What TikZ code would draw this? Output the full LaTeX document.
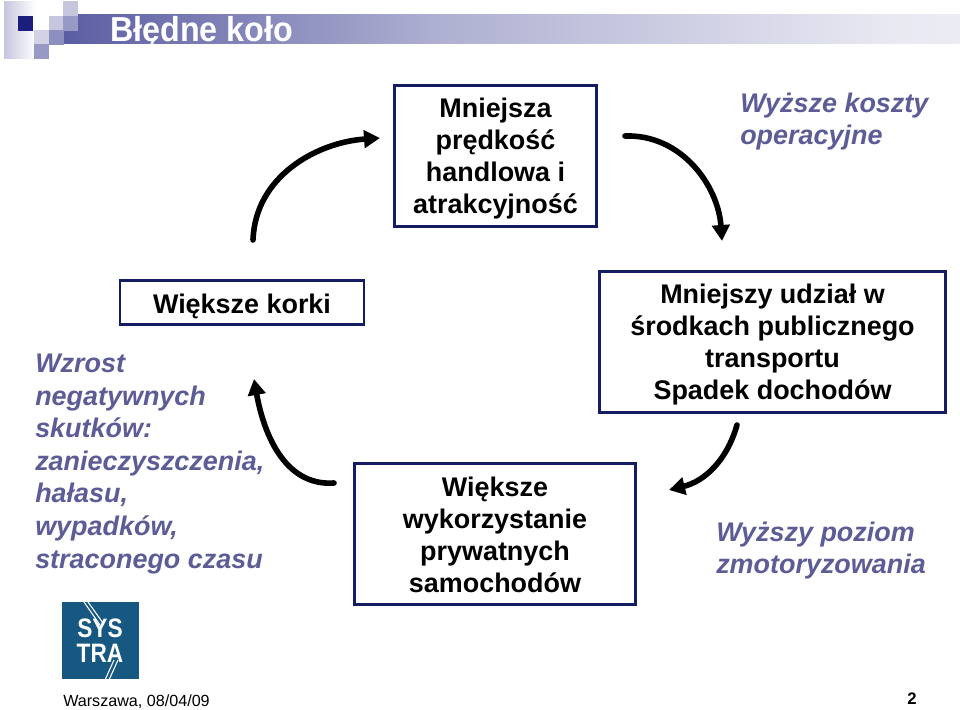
\documentclass[tikz,border=0pt]{standalone}
\usepackage{fontspec}
\setmainfont{Liberation Sans}
\usepackage{tikz}
\usetikzlibrary{arrows.meta}
\definecolor{boxblue}{RGB}{20,28,100}
\definecolor{barblue}{RGB}{26,30,125}
\definecolor{textblue}{RGB}{92,92,150}
\definecolor{logoblue}{RGB}{22,88,130}
\pgfdeclarehorizontalshading{barshade}{100bp}{
  color(0bp)=(barblue);
  color(15bp)=(barblue!92!white);
  color(26bp)=(barblue!70!white);
  color(46bp)=(barblue!35!white);
  color(71bp)=(barblue!10!white);
  color(100bp)=(white)}
\newcommand{\bigfont}{\fontsize{20.2}{24}\selectfont}
\newcommand{\topgap}[1]{\rule{0pt}{#1}}
\begin{document}
\begin{tikzpicture}[
x=0.75pt,y=-0.75pt,
mybox/.style={
  draw=boxblue,
  line width=2.2pt,
  minimum width=#1,
  align=center,
  font=\bigfont\bfseries,
  inner sep=0pt
  },
sidetext/.style={
  text=textblue,
  font=\bigfont\bfseries\itshape,
  inner sep=0pt
  },
myarrow/.style={
  line width=4.2pt,
  line cap=round,
  -{Triangle[length=12pt,width=13pt]}
  }
]
\useasboundingbox (0,0) rectangle (960,710);
% header bar and squares
\shade[shading=barshade] (63,15) rectangle (960,44);
\fill[left color=barblue!25!white,right color=white] (4,2) rectangle (36,59);
\foreach \X/\Y/\Shade in {18/16/100,49/16/25,63/1/25,63/16/45,34/30/20,49/30/50,34/44/45}
  \fill[barblue!\Shade!white] (\X,\Y) rectangle ++(15,15);
\node[anchor=west,text=white,inner sep=0pt,font=\fontsize{26}{26}\selectfont\bfseries\addfontfeature{FakeStretch=0.93}] (title) at (110,32) {Błędne koło};
% boxes
\node[mybox=152pt,minimum height=106pt] (predkosc) at (495.5,156) {\topgap{19pt}Mniejsza\\prędkość\\handlowa i\\atrakcyjność};
\node[mybox=183pt,minimum height=33pt] (korki) at (242,302.5) {\topgap{21pt}Większe korki};
\node[mybox=211pt,minimum height=106pt] (samochody) at (495,534) {\topgap{16pt}Większe\\wykorzystanie\\prywatnych\\samochodów};
\node[mybox=259pt,minimum height=106pt] (udzial) at (772.5,342) {\topgap{19pt}Mniejszy udział w\\środkach publicznego\\transportu\\Spadek dochodów};
% side texts
\node[sidetext,align=left,anchor=west] (koszty) at (740,122) {Wyższe koszty\\operacyjne};
\node[sidetext,align=left,anchor=north west,font=\fontsize{20.2}{24.4}\selectfont\bfseries\itshape] (skutki) at (35,354) {Wzrost\\negatywnych\\skutków:\\zanieczyszczenia,\\hałasu,\\wypadków,\\straconego czasu};
\node[sidetext,align=left,anchor=west] (poziom) at (716,551) {Wyższy poziom\\zmotoryzowania};
% arrows
\coordinate (a1) at (253,240);
\coordinate (a2) at (380,138);
\coordinate (b1) at (625,136);
\coordinate (b2) at (722,241);
\coordinate (c1) at (334,483);
\coordinate (c2) at (254,379);
\coordinate (d1) at (737,425);
\coordinate (d2) at (669,490);
\draw[myarrow] (a1) to[out=88,in=184] (a2);
\draw[myarrow] (b1) to[out=2,in=94] (b2);
\draw[myarrow] (c1) to[out=184,in=-80] (c2);
\draw[myarrow] (d1) to[out=-106,in=14] (d2);
% logo
\node[fill=logoblue,minimum size=57.75pt,inner sep=0pt] (logo) at (100.5,640.5) {};
\draw[white,line width=0.8pt] (84,602) -- (100,625);
\draw[white,line width=0.8pt] (88,602) -- (103,623);
\draw[white,line width=0.8pt] (105,680) -- (114,660);
\draw[white,line width=0.8pt] (109,680) -- (118,660);
\node[text=white,font=\fontsize{20}{19}\selectfont\bfseries\addfontfeature{FakeStretch=0.85},align=center,inner sep=0pt] (systra) at (100,640.5) {SYS\\TRA};
% footer
\node[anchor=base west,inner sep=0pt,font=\fontsize{12.1}{14}\selectfont] (data) at (63,706) {Warszawa, 08/04/09};
\node[anchor=base,inner sep=0pt,font=\fontsize{12.5}{14}\selectfont\bfseries] (numer) at (912,704) {2};
\end{tikzpicture}
\end{document}
